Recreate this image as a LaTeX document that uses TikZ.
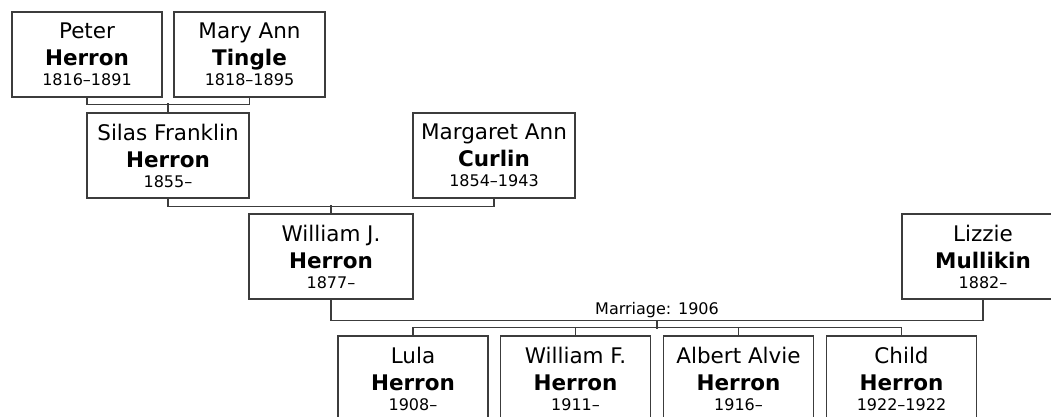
\documentclass[tikz,border=0pt]{standalone}
\usepackage{fontspec}
\setmainfont{DejaVu Sans}
\usetikzlibrary{calc}
\definecolor{line_gray}{HTML}{3C3C3C}

\begin{document}
\begin{tikzpicture}[
    x=1pt, y=-1pt,
    line width=1.2pt, line_gray,
    pbox/.style={draw=line_gray, fill=white, text=black, rectangle,
        minimum height=85pt, inner sep=0pt, align=center,
        font=\fontsize{21.5}{27}\selectfont},
    wide/.style={minimum width=162pt},
    narrow/.style={minimum width=150pt}
]
\newcommand{\yrs}[1]{{\fontsize{16}{20}\selectfont #1}}

\useasboundingbox (0,0) rectangle (1051,417);
\clip (0,0) rectangle (1051,417);

% ===== Generation 1 =====
\node[pbox, narrow] (peter) at (87, 54.5)
    {Peter\\\textbf{Herron}\\[-7pt]\yrs{1816–1891}};
\node[pbox, narrow, minimum width=151pt] (mary) at (249.5, 54.5)
    {Mary Ann\\\textbf{Tingle}\\[-7pt]\yrs{1818–1895}};

% ===== Generation 2 =====
\node[pbox, wide] (silas) at (168, 155.5)
    {Silas Franklin\\\textbf{Herron}\\[-7pt]\yrs{1855–}};
\node[pbox, wide] (margaret) at (494, 155.5)
    {Margaret Ann\\\textbf{Curlin}\\[-7pt]\yrs{1854–1943}};

% ===== Generation 3 =====
\node[pbox, wide, minimum width=164pt] (william) at (331, 256.5)
    {William J.\\\textbf{Herron}\\[-7pt]\yrs{1877–}};
\node[pbox, wide] (lizzie) at (983, 256.5)
    {Lizzie\\\textbf{Mullikin}\\[-7pt]\yrs{1882–}};

% ===== Children =====
\node[pbox, narrow] (lula) at (413, 378.5)
    {Lula\\\textbf{Herron}\\[-7pt]\yrs{1908–}};
\node[pbox, narrow] (williamf) at (575.5, 378.5)
    {William F.\\\textbf{Herron}\\[-7pt]\yrs{1911–}};
\node[pbox, narrow] (albert) at (738.5, 378.5)
    {Albert Alvie\\\textbf{Herron}\\[-7pt]\yrs{1916–}};
\node[pbox, narrow] (child) at (901.5, 378.5)
    {Child\\\textbf{Herron}\\[-7pt]\yrs{1922–1922}};

% Eltern -> Kind
\draw (peter.south) -- ++(0,7) -| (mary.south);
\draw (silas.north) -- ++(0,-9);
\draw (silas.south) -- ++(0,8) -| (margaret.south);
\draw (william.north) -- ++(0,-8);

% Ehe
\draw (william.south) -- ++(0,21) -| (lizzie.south);
\coordinate (wed) at ($(william.south)!.5!(lizzie.south)+(0,21)$);
\node[above, inner sep=2pt, text=black, font=\fontsize{16}{18}\selectfont]
    (marriage) at (wed) {Marriage: 1906};
\draw (wed) -- ++(0,8);

% Kinder
\draw (lula.north) -- ++(0,-8) -| (child.north);
\draw (williamf.north) -- ++(0,-8);
\draw (albert.north) -- ++(0,-8);

\end{tikzpicture}
\end{document}
